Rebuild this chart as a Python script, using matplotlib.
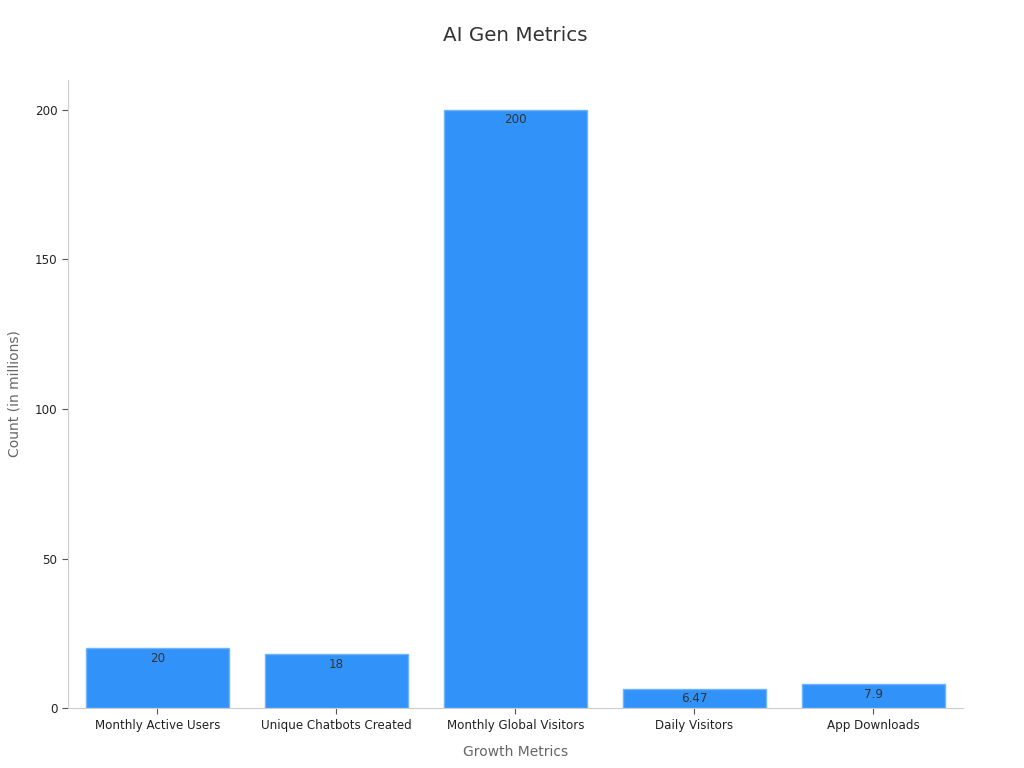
import matplotlib
matplotlib.use("Agg")
import matplotlib.pyplot as plt

categories = ["Monthly Active Users", "Unique Chatbots Created", "Monthly Global Visitors", "Daily Visitors", "App Downloads"]
values = [20, 18, 200, 6.47, 7.9]
labels = ["20", "18", "200", "6.47", "7.9"]

fig = plt.figure(figsize=(10.24, 7.68), dpi=100)
ax = fig.add_axes([0.0664, 0.078, 0.874, 0.8178])

bars = ax.bar(range(len(categories)), values, width=0.8, color="#3192F9", edgecolor="#6FB4FB", linewidth=1)
ax.set_xlim(-0.5, len(categories) - 0.5)
ax.set_ylim(0, 210)
ax.set_yticks([0, 50, 100, 150, 200])
ax.set_xticks(range(len(categories)))
ax.set_xticklabels(categories)
ax.tick_params(axis="both", labelsize=8.6, labelcolor="#222222", colors="#555555", length=4, width=0.8)
ax.tick_params(axis="both", labelcolor="#222222")

for s in ["top", "right"]:
    ax.spines[s].set_visible(False)
for s in ["left", "bottom"]:
    ax.spines[s].set_color("#CCCCCC")

for b, lab in zip(bars, labels):
    ax.annotate(lab, (b.get_x() + b.get_width() / 2, b.get_height()),
                xytext=(0, -7.2), textcoords="offset points",
                ha="center", va="center", fontsize=8.6, color="#333333")

ax.set_title("AI Gen Metrics", fontsize=14.3, color="#333333", pad=28)
ax.set_xlabel("Growth Metrics", fontsize=10, color="#666666", labelpad=10)
ax.set_ylabel("Count (in millions)", fontsize=10, color="#666666", labelpad=10)

fig.savefig("out.png", dpi=100)
